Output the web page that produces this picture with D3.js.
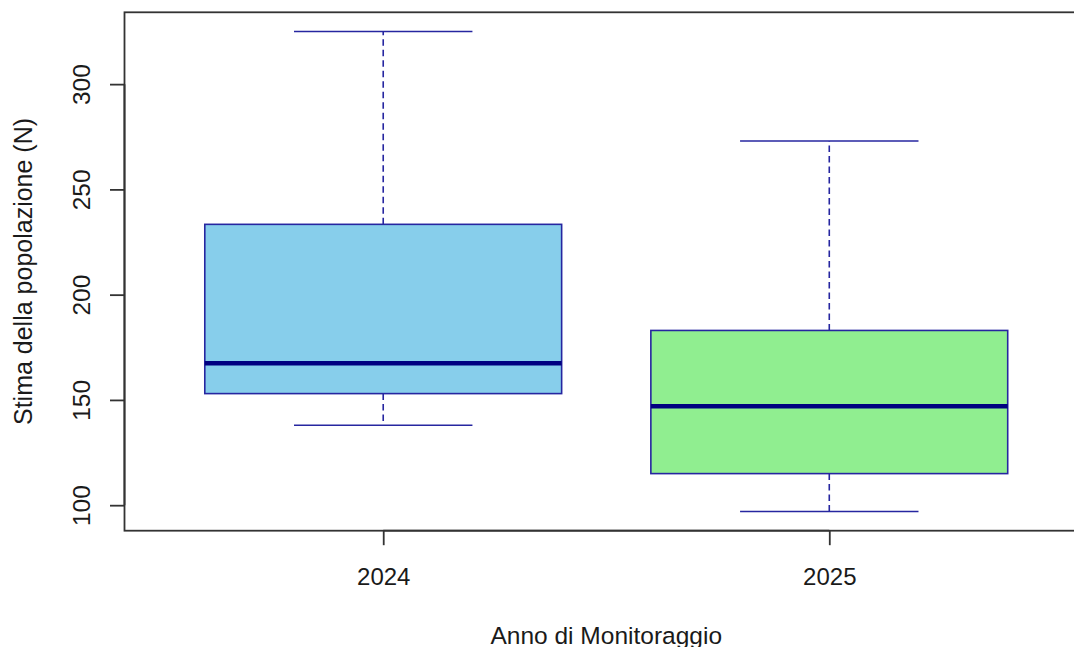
<!DOCTYPE html>
<html>
<head>
<meta charset="utf-8">
<script src="https://cdn.jsdelivr.net/npm/d3@7"></script>
<style>
  html, body { margin: 0; padding: 0; background: #ffffff; }
  svg { display: block; font-family: "Liberation Sans", Arial, sans-serif; }
</style>
</head>
<body>
<svg id="chart" width="1074" height="647"></svg>
<script>
// Population estimates per monitoring year (box statistics)
const years = ["2024", "2025"];
const lowerWhisker = [138, 97];
const q1 = [153, 115];
const median = [167.4, 147];
const q3 = [233.4, 183];
const upperWhisker = [325, 273];
const boxFills = ["#87CEEB", "#90EE90"];
const yTicks = [100, 150, 200, 250, 300];

const xTitle = "Anno di Monitoraggio";
const yTitle = "Stima della popolazione (N)";

const svg = d3.select("#chart");
const W = 1074, H = 647;
svg.append("rect").attr("width", W).attr("height", H).attr("fill", "#fff");

// Plot region
const plot = { left: 124.5, top: 12.3, bottom: 530.7, right: 1088 };

// y domain padded by 4% of the data range on each side
const lo = d3.min(lowerWhisker), hi = d3.max(upperWhisker);
const pad = (hi - lo) * 0.04;
const y = d3.scaleLinear().domain([lo - pad, hi + pad]).range([plot.bottom, plot.top]);

// x positions 1..n, with range [0.5, n + 0.5] padded by 4%
const n = years.length;
const xPad = n * 0.04;
const x = d3.scaleLinear().domain([0.5 - xPad, n + 0.5 + xPad]).range([plot.left, plot.right]);

const boxHalf = 0.4, capHalf = 0.2;
const dark = "#00008B";
const lineCol = "#2626a0";
const idx = d3.range(n);

const g = svg.append("g");

// Whiskers (dashed)
g.selectAll("line.wU").data(idx).join("line")
  .attr("x1", i => x(i + 1)).attr("x2", i => x(i + 1))
  .attr("y1", i => y(q3[i])).attr("y2", i => y(upperWhisker[i]))
  .attr("stroke", lineCol).attr("stroke-width", 1.6).attr("stroke-dasharray", "6.5,4");
g.selectAll("line.wL").data(idx).join("line")
  .attr("x1", i => x(i + 1)).attr("x2", i => x(i + 1))
  .attr("y1", i => y(q1[i])).attr("y2", i => y(lowerWhisker[i]))
  .attr("stroke", lineCol).attr("stroke-width", 1.6).attr("stroke-dasharray", "6.5,4");

// Caps
g.selectAll("line.capU").data(idx).join("line")
  .attr("x1", i => x(i + 1 - capHalf)).attr("x2", i => x(i + 1 + capHalf))
  .attr("y1", i => y(upperWhisker[i])).attr("y2", i => y(upperWhisker[i]))
  .attr("stroke", lineCol).attr("stroke-width", 1.6);
g.selectAll("line.capL").data(idx).join("line")
  .attr("x1", i => x(i + 1 - capHalf)).attr("x2", i => x(i + 1 + capHalf))
  .attr("y1", i => y(lowerWhisker[i])).attr("y2", i => y(lowerWhisker[i]))
  .attr("stroke", lineCol).attr("stroke-width", 1.6);

// Boxes
g.selectAll("rect.box").data(idx).join("rect")
  .attr("x", i => x(i + 1 - boxHalf))
  .attr("width", i => x(i + 1 + boxHalf) - x(i + 1 - boxHalf))
  .attr("y", i => y(q3[i]))
  .attr("height", i => y(q1[i]) - y(q3[i]))
  .attr("fill", (d, i) => boxFills[i])
  .attr("stroke", lineCol).attr("stroke-width", 1.6);

// Medians
g.selectAll("line.med").data(idx).join("line")
  .attr("x1", i => x(i + 1 - boxHalf)).attr("x2", i => x(i + 1 + boxHalf))
  .attr("y1", i => y(median[i])).attr("y2", i => y(median[i]))
  .attr("stroke", "#000080").attr("stroke-width", 4.5);

// Frame
const frameColor = "#333333";
svg.append("rect")
  .attr("x", plot.left).attr("y", plot.top)
  .attr("width", plot.right - plot.left).attr("height", plot.bottom - plot.top)
  .attr("fill", "none").attr("stroke", frameColor).attr("stroke-width", 1.8);

// y axis
const yAxis = svg.append("g")
  .attr("transform", `translate(${plot.left},0)`)
  .call(d3.axisLeft(y).tickValues(yTicks).tickSize(14.5).tickSizeOuter(0).tickFormat(d3.format("d")));
yAxis.select(".domain").attr("stroke", frameColor).attr("stroke-width", 1.8)
  .attr("d", `M0,${y(yTicks[0])}V${y(yTicks[yTicks.length - 1])}`);
yAxis.selectAll(".tick line").attr("stroke", frameColor).attr("stroke-width", 1.8);
yAxis.selectAll(".tick text")
  .attr("font-size", 24.5).attr("fill", "#1a1a1a")
  .attr("x", 0).attr("y", 0).attr("dy", null)
  .attr("text-anchor", "middle")
  .attr("transform", "translate(-34.5,0) rotate(-90)");

// x axis
const xAxis = svg.append("g")
  .attr("transform", `translate(0,${plot.bottom})`)
  .call(d3.axisBottom(x).tickValues(d3.range(1, n + 1)).tickSize(14.5).tickSizeOuter(0)
    .tickFormat(d => years[d - 1]));
xAxis.select(".domain").attr("stroke", frameColor).attr("stroke-width", 1.8)
  .attr("d", `M${x(1)},0H${x(n)}`);
xAxis.selectAll(".tick line").attr("stroke", frameColor).attr("stroke-width", 1.8);
xAxis.selectAll(".tick text")
  .attr("font-size", 24).attr("fill", "#1a1a1a")
  .attr("y", 54).attr("dy", null);

// Axis titles
svg.append("text")
  .attr("x", (plot.left + plot.right) / 2).attr("y", 643.5)
  .attr("text-anchor", "middle").attr("font-size", 24.5).attr("fill", "#1a1a1a")
  .text(xTitle);

svg.append("text")
  .attr("transform", `translate(31.5,${(plot.top + plot.bottom) / 2}) rotate(-90)`)
  .attr("text-anchor", "middle").attr("font-size", 25).attr("fill", "#1a1a1a")
  .text(yTitle);
</script>
</body>
</html>
